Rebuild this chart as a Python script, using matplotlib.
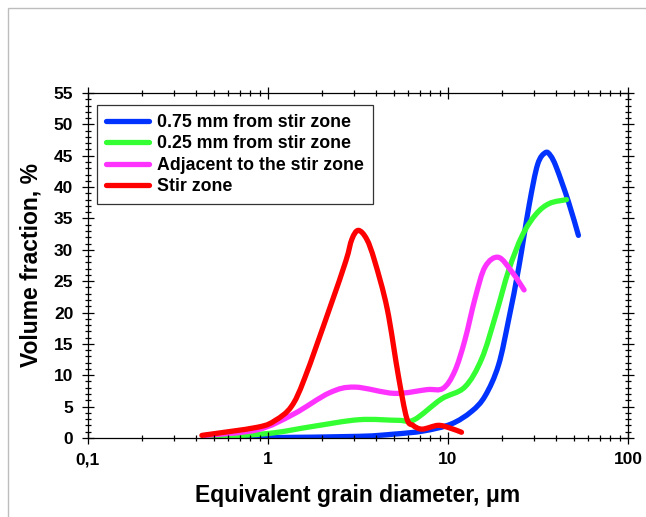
import matplotlib
matplotlib.use("Agg")
import numpy as np
import matplotlib.pyplot as plt
from matplotlib.lines import Line2D
from matplotlib.patches import PathPatch, Rectangle
from matplotlib.path import Path
from matplotlib.ticker import FixedLocator, MultipleLocator, NullFormatter

# ── data ─────────────────────────────────────────────────────────────────────

blue_x = [0.46, 1.0, 3.2, 5.0, 7.3, 10.4, 13.5, 16.1, 19.1, 21.8, 24.8, 28.3,
          31.5, 34.8, 37.2, 40.1, 46.7, 53.1]
blue_y = [0.0, 0.05, 0.25, 0.6, 1.1, 2.2, 4.2, 6.7, 11.6, 19.0, 27.3, 37.2,
          43.6, 45.5, 45.0, 43.1, 37.7, 32.3]

green_x = [0.46, 1.0, 1.75, 3.2, 5.3, 6.5, 9.2, 12.4, 15.4, 18.4, 21.8, 25.9,
           30.9, 36.7, 45.6]
green_y = [0.1, 0.7, 1.8, 2.9, 2.8, 2.9, 6.2, 8.1, 12.6, 19.5, 26.8, 32.3,
           35.7, 37.4, 38.0]

magenta_x = [0.45, 0.875, 1.39, 2.2, 3.04, 5.05, 7.65, 9.4, 10.9, 12.4, 14.2,
             16.1, 19.1, 22.8, 26.5]
magenta_y = [0.4, 1.3, 3.8, 7.2, 8.1, 7.1, 7.7, 7.9, 10.6, 15.5, 22.4, 27.3,
             28.8, 26.4, 23.6]

red_x = [0.43, 0.875, 1.1, 1.35, 1.6, 2.2, 2.71, 2.93, 3.18, 3.54, 3.92, 4.6,
         5.3, 5.9, 6.4, 7.2, 8.8, 10.2, 11.9]
red_y = [0.4, 1.7, 2.8, 5.0, 9.5, 20.6, 28.2, 31.7, 33.1, 31.7, 28.2, 20.6,
         10.0, 3.2, 2.0, 1.4, 2.0, 1.6, 0.9]

series = [
    ("0.75 mm from stir zone", blue_x, blue_y, "#0033ff"),
    ("0.25 mm from stir zone", green_x, green_y, "#33ff33"),
    ("Adjacent to the stir zone", magenta_x, magenta_y, "#ff33ff"),
    ("Stir zone", red_x, red_y, "#ff0000"),
]

x_ticks = [0.1, 1, 10, 100]
x_tick_labels = ["0,1", "1", "10", "100"]


# ── helpers ──────────────────────────────────────────────────────────────────

def smooth_path(xs, ys):
    """Bezier path through the points (smoothed like a spreadsheet line),
    built in log10(x) space so the curve is smooth on the log axis."""
    pts = np.column_stack([np.log10(xs), ys])
    ext = np.vstack([pts[0], pts, pts[-1]])
    verts = [pts[0]]
    codes = [Path.MOVETO]
    for i in range(len(pts) - 1):
        p0, p1, p2, p3 = ext[i], ext[i + 1], ext[i + 2], ext[i + 3]
        verts += [p1 + (p2 - p0) / 6, p2 - (p3 - p1) / 6, p2]
        codes += [Path.CURVE4] * 3
    verts = np.array(verts)
    verts[:, 0] = 10 ** verts[:, 0]
    return Path(verts, codes)


# ── figure ───────────────────────────────────────────────────────────────────

plt.rcParams["font.family"] = ["Liberation Sans", "DejaVu Sans"]
plt.rcParams["font.weight"] = "bold"

fig = plt.figure(figsize=(6.46, 5.17), dpi=100)
ax = fig.add_axes([0.136, 0.153, 0.836, 0.667])

# light grey frame round the picture
fig.patches.append(Rectangle((8 / 646, -0.1), 1.2, 1.1 - 8 / 517,
                             transform=fig.transFigure, fill=False,
                             edgecolor="#bdbdbd", linewidth=1.0))

ax.set_xscale("log")
ax.set_xlim(0.1, 100)
ax.set_ylim(0, 55)

handles = []
for label, xs, ys, color in series:
    ax.add_patch(PathPatch(smooth_path(xs, ys), fill=False, edgecolor=color,
                           linewidth=3.8, capstyle="round", joinstyle="round"))
    handles.append(Line2D([], [], color=color, linewidth=3.8,
                          solid_capstyle="round", label=label))

ax.xaxis.set_major_locator(FixedLocator(x_ticks))
ax.set_xticklabels(x_tick_labels)
ax.xaxis.set_minor_locator(FixedLocator(
    [m * 10.0 ** e for e in (-1, 0, 1) for m in range(2, 10)]))
ax.xaxis.set_minor_formatter(NullFormatter())
ax.yaxis.set_major_locator(MultipleLocator(5))
ax.yaxis.set_minor_locator(MultipleLocator(1))

ax.tick_params(which="both", direction="inout", top=True, right=True,
               color="black", width=0.9)
ax.tick_params(which="major", length=9, labelsize=12.5, pad=6)
ax.tick_params(which="minor", length=5)
for lab in ax.get_xticklabels() + ax.get_yticklabels():
    lab.set_fontweight("bold")
for sp in ax.spines.values():
    sp.set_linewidth(0.9)

ax.set_xlabel("Equivalent grain diameter, \u03bcm", fontsize=16.5,
              fontweight="bold", labelpad=12)
ax.set_ylabel("Volume fraction, %", fontsize=16.5, fontweight="bold",
              labelpad=8)

leg = ax.legend(handles=handles, loc="upper left",
                bbox_to_anchor=(0.017, 0.965),
                fontsize=12.8, handlelength=2.4, handletextpad=0.5,
                labelspacing=0.25, borderpad=0.5, borderaxespad=0.0,
                fancybox=False, framealpha=1, edgecolor="#333333")
leg.get_frame().set_linewidth(0.9)
for t in leg.get_texts():
    t.set_fontweight("bold")

fig.savefig("out.png", dpi=100)
